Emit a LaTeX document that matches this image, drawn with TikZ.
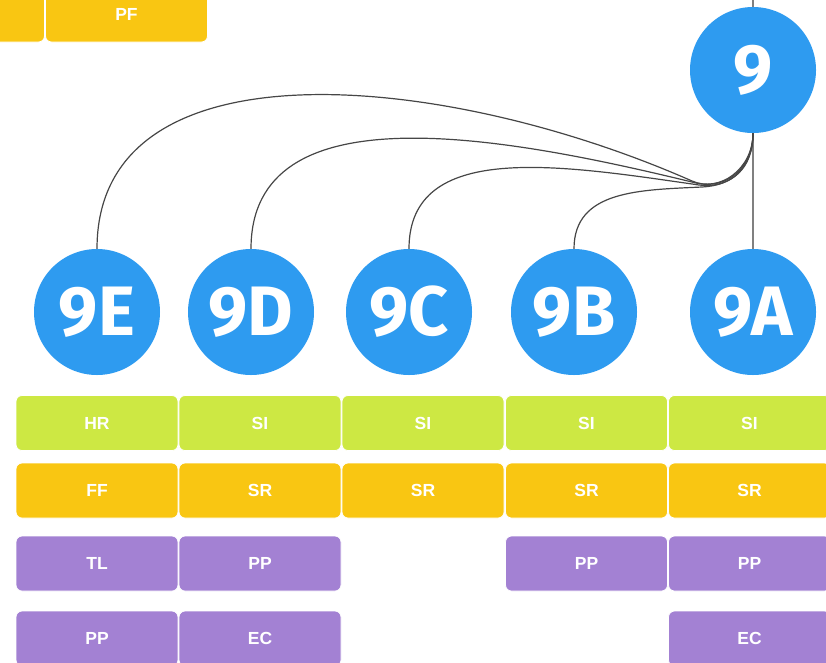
\documentclass[tikz,border=0pt]{standalone}
\usepackage{fontspec}
\setmainfont{Liberation Sans}
\newfontfamily\badgefont{Fira Sans}
\definecolor{badgeblue}{RGB}{46,155,240}
\definecolor{tagGreen}{RGB}{205,232,67}
\definecolor{tagOrange}{RGB}{249,198,18}
\definecolor{tagPurple}{RGB}{163,129,211}
\definecolor{linkgray}{RGB}{70,70,70}
\begin{document}
\begin{tikzpicture}[x=1pt,y=-1pt,
  badge/.style={circle,fill=badgeblue,minimum size=126pt,inner sep=0pt,
    text=white,font=\badgefont\bfseries\fontsize{70}{70}\selectfont},
  tag/.style={rectangle,rounded corners=6pt,minimum width=162pt,minimum height=55pt,
    inner sep=0pt,draw=white,line width=0.8pt,text=white,
    font=\bfseries\fontsize{17.5}{17.5}\selectfont},
  g/.style={tag,fill=tagGreen},
  o/.style={tag,fill=tagOrange},
  p/.style={tag,fill=tagPurple},
  link/.style={draw=linkgray,line width=1.2pt},
  stem/.style={draw=gray,line width=1.2pt}]
\useasboundingbox (0,0) rectangle (826,662);
\clip (0,0) rectangle (826,662);

% upper row of tags, cut by the top edge
\node[o] (tPrev) at (-36.5,14.5) {};
\node[o] (tPF) at (126.5,14.5) {PF};

% parent badge and its children
\coordinate (up) at (753,0);
\node[badge] (n9) at (753,70) {9};
\node[badge] (n9E) at (97,312) {9E};
\node[badge] (n9D) at (251,312) {9D};
\node[badge] (n9C) at (409,312) {9C};
\node[badge] (n9B) at (574,312) {9B};
\node[badge] (n9A) at (753,312) {9A};

% points where the curved links run together below the parent
\coordinate (jE) at (692,181);
\coordinate (jD) at (696,183);
\coordinate (jC) at (699,185);
\coordinate (jB) at (702,187);

\draw[stem] (up) -- (n9.north);
\draw[stem] (n9.south) -- (n9A.north);
\draw[link] (n9.south) .. controls +(0,36) and (719.5,193) .. (jE)
  .. controls (440,70) and (97,40) .. (n9E.north);
\draw[link] (n9.south) .. controls +(0,36) and (725,190) .. (jD)
  .. controls (500,135) and (251,90) .. (n9D.north);
\draw[link] (n9.south) .. controls +(0,36) and (729,189) .. (jC)
  .. controls (560,165) and (409,140) .. (n9C.north);
\draw[link] (n9.south) .. controls +(0,36) and (732,185.5) .. (jB)
  .. controls (640,190) and (574,190) .. (n9B.north);

% tag grid
\node[g] (e1) at (97,423) {HR};
\node[g] (d1) at (260,423) {SI};
\node[g] (c1) at (423,423) {SI};
\node[g] (b1) at (586.5,423) {SI};
\node[g] (a1) at (749.5,423) {SI};

\node[o] (e2) at (97,490.5) {FF};
\node[o] (d2) at (260,490.5) {SR};
\node[o] (c2) at (423,490.5) {SR};
\node[o] (b2) at (586.5,490.5) {SR};
\node[o] (a2) at (749.5,490.5) {SR};

\node[p] (e3) at (97,563.5) {TL};
\node[p] (d3) at (260,563.5) {PP};
\node[p] (b3) at (586.5,563.5) {PP};
\node[p] (a3) at (749.5,563.5) {PP};

\node[p] (e4) at (97,638.5) {PP};
\node[p] (d4) at (260,638.5) {EC};
\node[p] (a4) at (749.5,638.5) {EC};
\end{tikzpicture}
\end{document}
